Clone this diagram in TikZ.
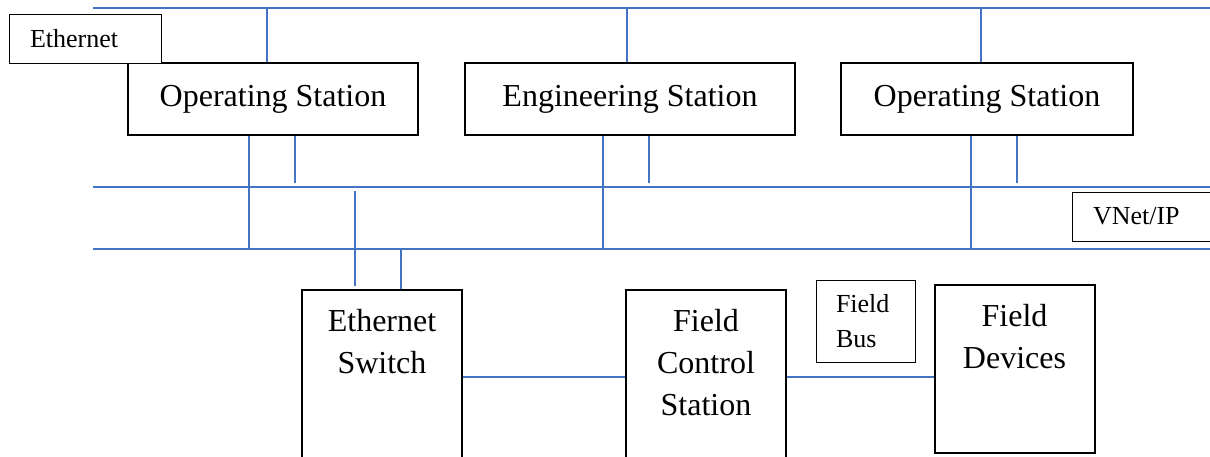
\documentclass[tikz,border=0pt]{standalone}
\usepackage{fontspec}
\setmainfont{Liberation Serif}
\usepackage{xcolor}
\usepackage{tikz}
\usetikzlibrary{shapes,arrows}
\definecolor{busblue}{RGB}{68,114,196}

\begin{document}
\begin{tikzpicture}[x=0.5pt, y=-0.5pt]
    \tikzstyle{station} = [rectangle, draw, line width=1pt, fill=white,
        minimum height=36pt, inner sep=0pt, font=\fontsize{16}{19}\selectfont]
    \tikzstyle{unit} = [rectangle, draw, line width=1pt, fill=white, anchor=north,
        inner xsep=0pt, inner ysep=9.5pt, font=\fontsize{16}{21}\selectfont]
    \tikzstyle{tag} = [rectangle, draw, line width=0.5pt, fill=white, anchor=north west,
        align=left, inner xsep=10.5pt, inner ysep=0pt, font=\fontsize{13}{17.5}\selectfont]
    \tikzstyle{bus} = [draw, busblue, line width=0.6pt]

    \useasboundingbox (0,0) rectangle (1210,456);
    \clip (0,0) rectangle (1210,456);

    % stations
    \node [station, minimum width=145pt] (os1) at (273,99) {Operating Station};
    \node [station, minimum width=165pt] (es) at (630,99) {Engineering Station};
    \node [station, minimum width=146pt] (os2) at (987,99) {Operating Station};

    % lower units
    \node [unit] (switch) at (382,289) {\parbox[t][68pt][t]{80pt}{\centering Ethernet\\Switch}};
    \node [unit] (fcs) at (706,289) {\parbox[t][68pt][t]{80pt}{\centering Field\\Control\\Station}};
    \node [unit] (fdev) at (1014.5,284) {\parbox[t][65pt][t]{80pt}{\centering Field\\Devices}};

    % labels
    \node [tag, text width=55pt, minimum height=24.5pt] (ethtag) at (8.5,13.5) {Ethernet};
    \node [tag, text width=55pt, minimum height=24.5pt] (vnettag) at (1071.5,191.5) {VNet/IP};
    \node [tag, text width=29.5pt, minimum height=41pt, inner xsep=10pt] (fbtag) at (815.5,279.5) {Field\\Bus};

    % buses
    \coordinate (ethW) at (93,8);
    \coordinate (ethE) at (1210,8);
    \coordinate (vaW) at (93,187);
    \coordinate (vaE) at (1210,187);
    \coordinate (vbW) at (93,249);
    \coordinate (vbE) at (1210,249);
    \path [bus] (ethW) -- (ethE);
    \path [bus] (vaW) -- (vaE);
    \path [bus] (vbW) -- (vbE);

    % taps
    \coordinate (ethA) at (267,8);
    \coordinate (ethB) at (627,8);
    \coordinate (ethC) at (981,8);
    \coordinate (vaA) at (295,187);
    \coordinate (vaB) at (649,187);
    \coordinate (vaC) at (1017,187);
    \coordinate (vaS) at (355,187);
    \coordinate (vbA) at (249,249);
    \coordinate (vbB) at (603,249);
    \coordinate (vbC) at (971,249);
    \coordinate (vbS) at (401,249);

    \path [bus] (ethA) -- (ethA |- os1.north);
    \path [bus] (ethB) -- (ethB |- es.north);
    \path [bus] (ethC) -- (ethC |- os2.north);
    \path [bus, shorten <=2pt] (vaA) -- (vaA |- os1.south);
    \path [bus, shorten <=2pt] (vaB) -- (vaB |- es.south);
    \path [bus, shorten <=2pt] (vaC) -- (vaC |- os2.south);
    \path [bus] (vbA) -- (vbA |- os1.south);
    \path [bus] (vbB) -- (vbB |- es.south);
    \path [bus] (vbC) -- (vbC |- os2.south);
    \path [bus, shorten <=2pt, shorten >=1.5pt] (vaS) -- (vaS |- switch.north);
    \path [bus] (vbS) -- (vbS |- switch.north);

    \path [bus] (switch.east) -- (fcs.west);
    \path [bus] (fcs.east) -- (fcs.east -| fdev.west);
\end{tikzpicture}
\end{document}
